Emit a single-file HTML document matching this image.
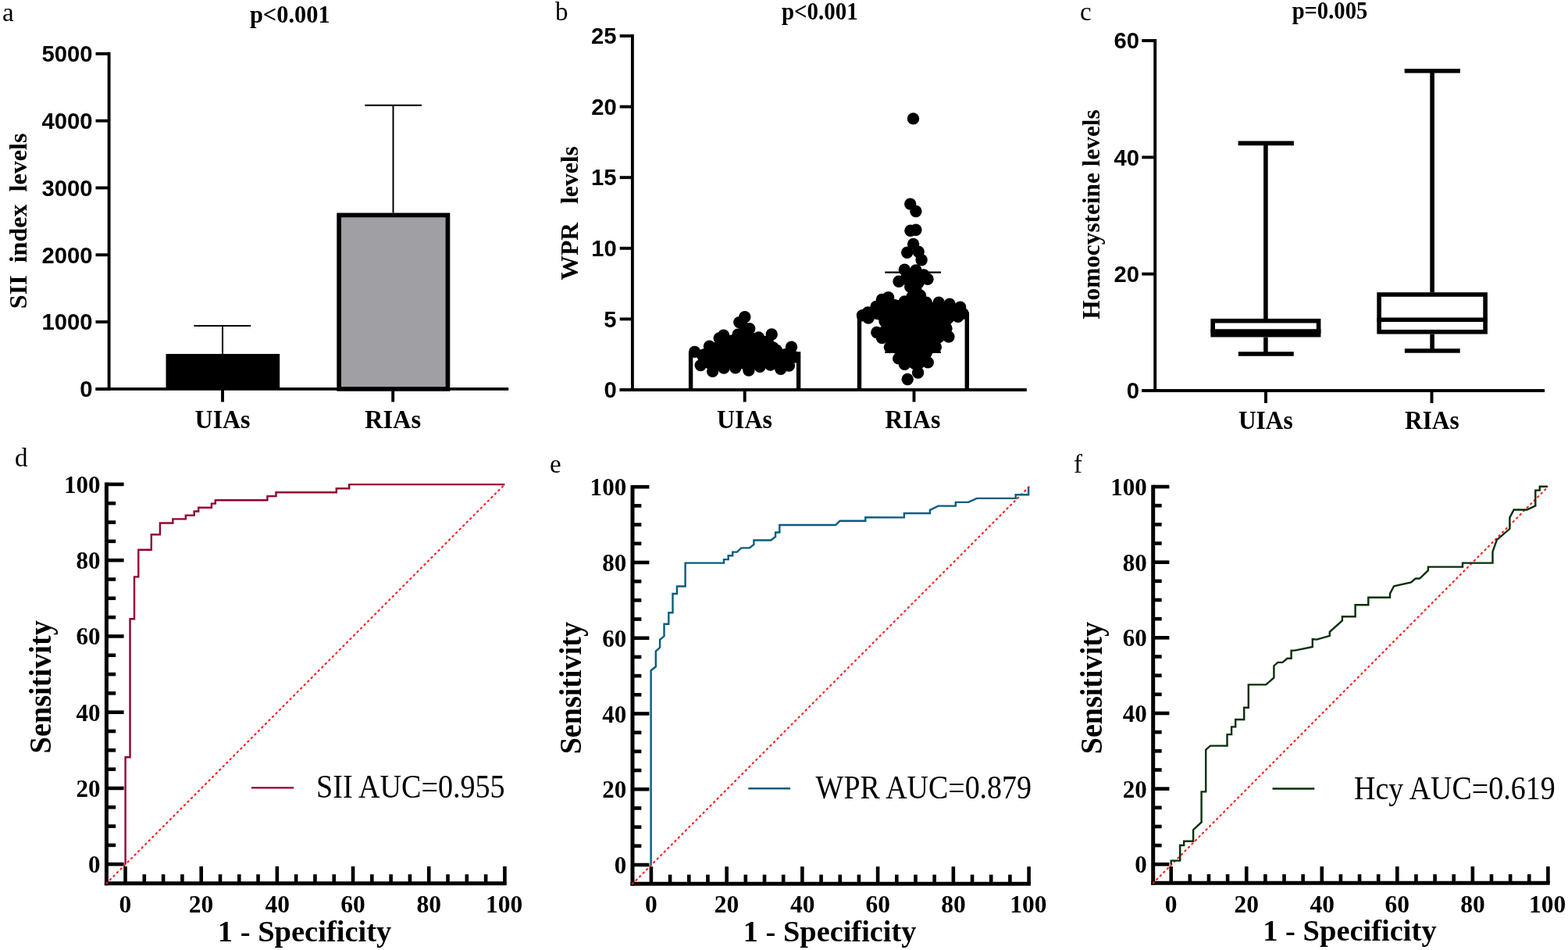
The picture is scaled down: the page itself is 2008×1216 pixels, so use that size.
<!DOCTYPE html>
<html><head><meta charset="utf-8"><title>Figure</title>
<style>
html,body{margin:0;padding:0;background:#fff;}
body{width:2008px;height:1216px;overflow:hidden;}
svg{display:block;}
</style></head>
<body>
<svg width="2008" height="1216" viewBox="0 0 2008 1216">
<rect width="2008" height="1216" fill="#fff"/>
<text x="3.00" y="27.00" font-family="'Liberation Serif', 'Times New Roman', serif" font-size="33" font-weight="normal" text-anchor="start" >a</text>
<text x="711.00" y="26.00" font-family="'Liberation Serif', 'Times New Roman', serif" font-size="33" font-weight="normal" text-anchor="start" >b</text>
<text x="1383.00" y="25.50" font-family="'Liberation Serif', 'Times New Roman', serif" font-size="33" font-weight="normal" text-anchor="start" >c</text>
<text x="19.00" y="597.00" font-family="'Liberation Serif', 'Times New Roman', serif" font-size="33" font-weight="normal" text-anchor="start" >d</text>
<text x="704.00" y="604.50" font-family="'Liberation Serif', 'Times New Roman', serif" font-size="33" font-weight="normal" text-anchor="start" >e</text>
<text x="1375.00" y="605.00" font-family="'Liberation Serif', 'Times New Roman', serif" font-size="33" font-weight="normal" text-anchor="start" >f</text>
<line x1="139.60" y1="66.70" x2="139.60" y2="499.85" stroke="#000" stroke-width="3.9" />
<line x1="122.50" y1="497.90" x2="651.20" y2="497.90" stroke="#000" stroke-width="3.9" />
<line x1="122.50" y1="497.90" x2="139.60" y2="497.90" stroke="#000" stroke-width="3.9" />
<text x="102.34" y="508.21" font-family="'Liberation Sans', Arial, sans-serif" font-size="30.00" font-weight="bold" textLength="16.27" lengthAdjust="spacingAndGlyphs" xml:space="preserve">0</text>
<line x1="122.50" y1="412.08" x2="139.60" y2="412.08" stroke="#000" stroke-width="3.9" />
<text x="53.56" y="422.39" font-family="'Liberation Sans', Arial, sans-serif" font-size="30.00" font-weight="bold" textLength="65.07" lengthAdjust="spacingAndGlyphs" xml:space="preserve">1000</text>
<line x1="122.50" y1="326.26" x2="139.60" y2="326.26" stroke="#000" stroke-width="3.9" />
<text x="53.56" y="336.57" font-family="'Liberation Sans', Arial, sans-serif" font-size="30.00" font-weight="bold" textLength="65.07" lengthAdjust="spacingAndGlyphs" xml:space="preserve">2000</text>
<line x1="122.50" y1="240.44" x2="139.60" y2="240.44" stroke="#000" stroke-width="3.9" />
<text x="53.56" y="250.72" font-family="'Liberation Sans', Arial, sans-serif" font-size="30.00" font-weight="bold" textLength="65.07" lengthAdjust="spacingAndGlyphs" xml:space="preserve">3000</text>
<line x1="122.50" y1="154.62" x2="139.60" y2="154.62" stroke="#000" stroke-width="3.9" />
<text x="53.56" y="164.93" font-family="'Liberation Sans', Arial, sans-serif" font-size="30.00" font-weight="bold" textLength="65.07" lengthAdjust="spacingAndGlyphs" xml:space="preserve">4000</text>
<line x1="122.50" y1="68.80" x2="139.60" y2="68.80" stroke="#000" stroke-width="3.9" />
<text x="53.56" y="79.11" font-family="'Liberation Sans', Arial, sans-serif" font-size="30.00" font-weight="bold" textLength="65.07" lengthAdjust="spacingAndGlyphs" xml:space="preserve">5000</text>
<line x1="285.00" y1="497.90" x2="285.00" y2="514.50" stroke="#000" stroke-width="3.9" />
<line x1="503.20" y1="497.90" x2="503.20" y2="514.50" stroke="#000" stroke-width="3.9" />
<rect x="212.50" y="453.00" width="145.70" height="44.90" fill="#000" stroke="none" stroke-width="0"/>
<line x1="285.00" y1="453.00" x2="285.00" y2="417.00" stroke="#000" stroke-width="2.0" />
<line x1="248.40" y1="417.00" x2="321.20" y2="417.00" stroke="#000" stroke-width="2.0" />
<rect x="434.15" y="275.35" width="139.30" height="222.55" fill="#a09fa4" stroke="#000" stroke-width="5.7"/>
<line x1="503.50" y1="272.50" x2="503.50" y2="134.70" stroke="#000" stroke-width="2.0" />
<line x1="467.30" y1="134.70" x2="540.00" y2="134.70" stroke="#000" stroke-width="2.0" />
<text x="319.92" y="28.90" font-family="'Liberation Serif', 'Times New Roman', serif" font-size="30.50" font-weight="bold" textLength="102.81" lengthAdjust="spacingAndGlyphs" xml:space="preserve">p&lt;0.001</text>
<text x="249.60" y="548.00" font-family="'Liberation Serif', 'Times New Roman', serif" font-size="33.50" font-weight="bold" textLength="70.90" lengthAdjust="spacingAndGlyphs" xml:space="preserve">UIAs</text>
<text x="467.03" y="548.00" font-family="'Liberation Serif', 'Times New Roman', serif" font-size="33.50" font-weight="bold" textLength="72.09" lengthAdjust="spacingAndGlyphs" xml:space="preserve">RIAs</text>
<text x="33.60" y="395.18" font-family="'Liberation Serif', 'Times New Roman', serif" font-size="31.50" font-weight="bold" textLength="224.65" lengthAdjust="spacingAndGlyphs" transform="rotate(-90 33.60 395.18)" xml:space="preserve">SII  index  levels</text>
<line x1="809.90" y1="43.90" x2="809.90" y2="500.95" stroke="#000" stroke-width="3.9" />
<line x1="793.70" y1="499.00" x2="1314.80" y2="499.00" stroke="#000" stroke-width="3.9" />
<line x1="793.70" y1="499.00" x2="809.90" y2="499.00" stroke="#000" stroke-width="3.9" />
<text x="773.54" y="509.31" font-family="'Liberation Sans', Arial, sans-serif" font-size="30.00" font-weight="bold" textLength="16.27" lengthAdjust="spacingAndGlyphs" xml:space="preserve">0</text>
<line x1="793.70" y1="408.40" x2="809.90" y2="408.40" stroke="#000" stroke-width="3.9" />
<text x="773.17" y="418.56" font-family="'Liberation Sans', Arial, sans-serif" font-size="30.00" font-weight="bold" textLength="16.27" lengthAdjust="spacingAndGlyphs" xml:space="preserve">5</text>
<line x1="793.70" y1="317.80" x2="809.90" y2="317.80" stroke="#000" stroke-width="3.9" />
<text x="757.30" y="328.11" font-family="'Liberation Sans', Arial, sans-serif" font-size="30.00" font-weight="bold" textLength="32.54" lengthAdjust="spacingAndGlyphs" xml:space="preserve">10</text>
<line x1="793.70" y1="227.20" x2="809.90" y2="227.20" stroke="#000" stroke-width="3.9" />
<text x="756.94" y="237.36" font-family="'Liberation Sans', Arial, sans-serif" font-size="30.00" font-weight="bold" textLength="32.54" lengthAdjust="spacingAndGlyphs" xml:space="preserve">15</text>
<line x1="793.70" y1="136.60" x2="809.90" y2="136.60" stroke="#000" stroke-width="3.9" />
<text x="757.30" y="146.91" font-family="'Liberation Sans', Arial, sans-serif" font-size="30.00" font-weight="bold" textLength="32.54" lengthAdjust="spacingAndGlyphs" xml:space="preserve">20</text>
<line x1="793.70" y1="46.00" x2="809.90" y2="46.00" stroke="#000" stroke-width="3.9" />
<text x="756.94" y="56.31" font-family="'Liberation Sans', Arial, sans-serif" font-size="30.00" font-weight="bold" textLength="32.54" lengthAdjust="spacingAndGlyphs" xml:space="preserve">25</text>
<line x1="953.70" y1="499.00" x2="953.70" y2="514.50" stroke="#000" stroke-width="3.9" />
<line x1="1170.50" y1="499.00" x2="1170.50" y2="514.50" stroke="#000" stroke-width="3.9" />
<text x="1000.94" y="24.60" font-family="'Liberation Serif', 'Times New Roman', serif" font-size="31.50" font-weight="bold" textLength="97.71" lengthAdjust="spacingAndGlyphs" xml:space="preserve">p&lt;0.001</text>
<text x="918.00" y="548.20" font-family="'Liberation Serif', 'Times New Roman', serif" font-size="33.50" font-weight="bold" textLength="70.90" lengthAdjust="spacingAndGlyphs" xml:space="preserve">UIAs</text>
<text x="1133.34" y="548.20" font-family="'Liberation Serif', 'Times New Roman', serif" font-size="33.50" font-weight="bold" textLength="71.07" lengthAdjust="spacingAndGlyphs" xml:space="preserve">RIAs</text>
<text x="739.60" y="358.68" font-family="'Liberation Serif', 'Times New Roman', serif" font-size="31.50" font-weight="bold" textLength="171.61" lengthAdjust="spacingAndGlyphs" transform="rotate(-90 739.60 358.68)" xml:space="preserve">WPR   levels</text>
<line x1="1479.20" y1="49.91" x2="1479.20" y2="501.95" stroke="#000" stroke-width="3.9" />
<line x1="1462.30" y1="500.00" x2="1978.10" y2="500.00" stroke="#000" stroke-width="3.9" />
<line x1="1462.30" y1="500.00" x2="1479.20" y2="500.00" stroke="#000" stroke-width="3.9" />
<text x="1442.74" y="510.31" font-family="'Liberation Sans', Arial, sans-serif" font-size="30.00" font-weight="bold" textLength="16.27" lengthAdjust="spacingAndGlyphs" xml:space="preserve">0</text>
<line x1="1462.30" y1="350.67" x2="1479.20" y2="350.67" stroke="#000" stroke-width="3.9" />
<text x="1426.50" y="360.98" font-family="'Liberation Sans', Arial, sans-serif" font-size="30.00" font-weight="bold" textLength="32.54" lengthAdjust="spacingAndGlyphs" xml:space="preserve">20</text>
<line x1="1462.30" y1="201.34" x2="1479.20" y2="201.34" stroke="#000" stroke-width="3.9" />
<text x="1426.50" y="211.65" font-family="'Liberation Sans', Arial, sans-serif" font-size="30.00" font-weight="bold" textLength="32.54" lengthAdjust="spacingAndGlyphs" xml:space="preserve">40</text>
<line x1="1462.30" y1="52.01" x2="1479.20" y2="52.01" stroke="#000" stroke-width="3.9" />
<text x="1426.50" y="62.32" font-family="'Liberation Sans', Arial, sans-serif" font-size="30.00" font-weight="bold" textLength="32.54" lengthAdjust="spacingAndGlyphs" xml:space="preserve">60</text>
<line x1="1621.00" y1="500.00" x2="1621.00" y2="516.00" stroke="#000" stroke-width="3.9" />
<line x1="1833.50" y1="500.00" x2="1833.50" y2="516.00" stroke="#000" stroke-width="3.9" />
<text x="1654.64" y="23.90" font-family="'Liberation Serif', 'Times New Roman', serif" font-size="31.00" font-weight="bold" textLength="96.66" lengthAdjust="spacingAndGlyphs" xml:space="preserve">p=0.005</text>
<text x="1585.92" y="548.60" font-family="'Liberation Serif', 'Times New Roman', serif" font-size="33.50" font-weight="bold" textLength="69.78" lengthAdjust="spacingAndGlyphs" xml:space="preserve">UIAs</text>
<text x="1798.95" y="548.60" font-family="'Liberation Serif', 'Times New Roman', serif" font-size="33.50" font-weight="bold" textLength="69.84" lengthAdjust="spacingAndGlyphs" xml:space="preserve">RIAs</text>
<text x="1407.60" y="408.85" font-family="'Liberation Serif', 'Times New Roman', serif" font-size="31.50" font-weight="bold" textLength="268.59" lengthAdjust="spacingAndGlyphs" transform="rotate(-90 1407.60 408.85)" xml:space="preserve">Homocysteine levels</text>
<line x1="1620.90" y1="183.40" x2="1620.90" y2="407.90" stroke="#000" stroke-width="5.6" />
<line x1="1585.60" y1="183.40" x2="1656.90" y2="183.40" stroke="#000" stroke-width="5.6" />
<line x1="1620.90" y1="431.50" x2="1620.90" y2="453.00" stroke="#000" stroke-width="5.6" />
<line x1="1585.80" y1="453.00" x2="1656.80" y2="453.00" stroke="#000" stroke-width="5.6" />
<rect x="1553.20" y="410.70" width="135.40" height="18.00" fill="none" stroke="#000" stroke-width="5.6"/>
<line x1="1550.40" y1="424.00" x2="1691.40" y2="424.00" stroke="#000" stroke-width="5.6" />
<line x1="1834.10" y1="90.70" x2="1834.10" y2="374.20" stroke="#000" stroke-width="5.6" />
<line x1="1798.70" y1="90.70" x2="1869.90" y2="90.70" stroke="#000" stroke-width="5.6" />
<line x1="1834.10" y1="427.60" x2="1834.10" y2="449.00" stroke="#000" stroke-width="5.6" />
<line x1="1798.90" y1="449.00" x2="1869.70" y2="449.00" stroke="#000" stroke-width="5.6" />
<rect x="1766.10" y="377.00" width="136.00" height="47.80" fill="none" stroke="#000" stroke-width="5.6"/>
<line x1="1763.30" y1="409.20" x2="1904.90" y2="409.20" stroke="#000" stroke-width="5.6" />
<path d="M884.60,499.00 V453.00 H1022.60 V499.00" fill="none" stroke="#000" stroke-width="5.4"/>
<path d="M1100.50,499.00 V402.20 H1238.30 V499.00" fill="none" stroke="#000" stroke-width="5.4"/>
<line x1="1133.30" y1="348.70" x2="1205.00" y2="348.70" stroke="#000" stroke-width="2.2" />
<line x1="1133.30" y1="450.80" x2="1205.00" y2="450.80" stroke="#000" stroke-width="2.2" />
<line x1="1169.50" y1="348.70" x2="1169.50" y2="450.80" stroke="#000" stroke-width="2.2" />
<polygon points="889.6,450.4 908.5,443.2 921.2,433.0 926.6,429.2 945.1,428.2 946.8,412.6 953.8,405.8 959.7,420.7 971.5,432.0 988.2,428.0 994.5,448.5 1013.5,444.2 1017.5,457.0 1010.4,468.0 999.8,472.4 986.6,467.0 973.1,469.4 958.9,474.0 941.8,470.8 927.0,471.0 912.6,475.4 897.2,467.6" fill="#000"/>
<circle cx="889.6" cy="450.4" r="7.7"/>
<circle cx="908.5" cy="443.2" r="7.7"/>
<circle cx="921.2" cy="433.0" r="7.7"/>
<circle cx="926.6" cy="429.2" r="7.7"/>
<circle cx="945.1" cy="428.2" r="7.7"/>
<circle cx="946.8" cy="412.6" r="7.7"/>
<circle cx="953.8" cy="405.8" r="7.7"/>
<circle cx="959.7" cy="420.7" r="7.7"/>
<circle cx="971.5" cy="432.0" r="7.7"/>
<circle cx="988.2" cy="428.0" r="7.7"/>
<circle cx="994.5" cy="448.5" r="7.7"/>
<circle cx="1013.5" cy="444.2" r="7.7"/>
<circle cx="1017.5" cy="457.0" r="7.7"/>
<circle cx="1010.4" cy="468.0" r="7.7"/>
<circle cx="999.8" cy="472.4" r="7.7"/>
<circle cx="986.6" cy="467.0" r="7.7"/>
<circle cx="973.1" cy="469.4" r="7.7"/>
<circle cx="958.9" cy="474.0" r="7.7"/>
<circle cx="941.8" cy="470.8" r="7.7"/>
<circle cx="927.0" cy="471.0" r="7.7"/>
<circle cx="912.6" cy="475.4" r="7.7"/>
<circle cx="897.2" cy="467.6" r="7.7"/>
<circle cx="900.0" cy="455.0" r="7.7"/>
<circle cx="935.0" cy="450.0" r="7.7"/>
<circle cx="960.0" cy="445.0" r="7.7"/>
<circle cx="985.0" cy="450.0" r="7.7"/>
<circle cx="1003.0" cy="458.0" r="7.7"/>
<circle cx="990.0" cy="445.0" r="7.7"/>
<polygon points="1104.5,403.8 1111.4,399.9 1122.0,392.4 1129.4,383.4 1137.6,380.8 1158.4,386.0 1171.2,372.1 1186.2,387.1 1202.2,387.1 1216.1,389.2 1229.7,393.1 1233.0,401.3 1226.8,405.3 1212.0,420.5 1214.9,431.0 1198.3,444.3 1188.3,463.9 1175.6,477.0 1158.4,466.2 1150.7,458.9 1139.4,444.5 1129.4,432.6 1122.8,425.5 1133.0,411.0 1112.0,407.0" fill="#000"/>
<circle cx="1104.5" cy="403.8" r="7.7"/>
<circle cx="1111.4" cy="399.9" r="7.7"/>
<circle cx="1122.0" cy="392.4" r="7.7"/>
<circle cx="1129.4" cy="383.4" r="7.7"/>
<circle cx="1137.6" cy="380.8" r="7.7"/>
<circle cx="1158.4" cy="386.0" r="7.7"/>
<circle cx="1171.2" cy="372.1" r="7.7"/>
<circle cx="1186.2" cy="387.1" r="7.7"/>
<circle cx="1202.2" cy="387.1" r="7.7"/>
<circle cx="1216.1" cy="389.2" r="7.7"/>
<circle cx="1229.7" cy="393.1" r="7.7"/>
<circle cx="1233.0" cy="401.3" r="7.7"/>
<circle cx="1226.8" cy="405.3" r="7.7"/>
<circle cx="1212.0" cy="420.5" r="7.7"/>
<circle cx="1214.9" cy="431.0" r="7.7"/>
<circle cx="1198.3" cy="444.3" r="7.7"/>
<circle cx="1188.3" cy="463.9" r="7.7"/>
<circle cx="1175.6" cy="477.0" r="7.7"/>
<circle cx="1158.4" cy="466.2" r="7.7"/>
<circle cx="1150.7" cy="458.9" r="7.7"/>
<circle cx="1139.4" cy="444.5" r="7.7"/>
<circle cx="1129.4" cy="432.6" r="7.7"/>
<circle cx="1122.8" cy="425.5" r="7.7"/>
<circle cx="1133.0" cy="411.0" r="7.7"/>
<circle cx="1112.0" cy="407.0" r="7.7"/>
<circle cx="1169.5" cy="151.9" r="7.7"/>
<circle cx="1165.7" cy="261.1" r="7.7"/>
<circle cx="1172.9" cy="270.5" r="7.7"/>
<circle cx="1165.9" cy="295.3" r="7.7"/>
<circle cx="1172.9" cy="294.2" r="7.7"/>
<circle cx="1169.6" cy="312.4" r="7.7"/>
<circle cx="1161.7" cy="323.2" r="7.7"/>
<circle cx="1176.2" cy="322.2" r="7.7"/>
<circle cx="1180.1" cy="332.8" r="7.7"/>
<circle cx="1158.4" cy="345.3" r="7.7"/>
<circle cx="1172.9" cy="345.9" r="7.7"/>
<circle cx="1151.0" cy="360.3" r="7.7"/>
<circle cx="1188.0" cy="357.3" r="7.7"/>
<circle cx="1165.7" cy="367.0" r="7.7"/>
<circle cx="1172.9" cy="370.9" r="7.7"/>
<circle cx="1178.5" cy="378.3" r="7.7"/>
<circle cx="1165.0" cy="352.0" r="7.7"/>
<circle cx="1180.0" cy="355.0" r="7.7"/>
<circle cx="1162.2" cy="485.5" r="7.7"/>
<circle cx="1168.0" cy="380.0" r="7.7"/>
<circle cx="1160.0" cy="357.0" r="7.7"/>
<circle cx="1176.0" cy="362.0" r="7.7"/>
<circle cx="1168.0" cy="358.0" r="7.7"/>
<circle cx="1183.0" cy="352.0" r="7.7"/>
<line x1="136.40" y1="617.60" x2="136.40" y2="1133.20" stroke="#000" stroke-width="5.0" />
<line x1="133.90" y1="1130.70" x2="648.70" y2="1130.70" stroke="#000" stroke-width="5.0" />
<line x1="136.40" y1="1106.20" x2="158.60" y2="1106.20" stroke="#000" stroke-width="4.6" />
<line x1="160.50" y1="1130.70" x2="160.50" y2="1108.90" stroke="#000" stroke-width="4.6" />
<line x1="136.40" y1="1081.88" x2="148.17" y2="1081.88" stroke="#000" stroke-width="4.6" />
<line x1="184.80" y1="1130.70" x2="184.80" y2="1119.15" stroke="#000" stroke-width="4.6" />
<line x1="136.40" y1="1057.57" x2="148.17" y2="1057.57" stroke="#000" stroke-width="4.6" />
<line x1="209.09" y1="1130.70" x2="209.09" y2="1119.15" stroke="#000" stroke-width="4.6" />
<line x1="136.40" y1="1033.26" x2="148.17" y2="1033.26" stroke="#000" stroke-width="4.6" />
<line x1="233.38" y1="1130.70" x2="233.38" y2="1119.15" stroke="#000" stroke-width="4.6" />
<line x1="136.40" y1="1008.94" x2="158.60" y2="1008.94" stroke="#000" stroke-width="4.6" />
<line x1="257.68" y1="1130.70" x2="257.68" y2="1108.90" stroke="#000" stroke-width="4.6" />
<line x1="136.40" y1="984.62" x2="148.17" y2="984.62" stroke="#000" stroke-width="4.6" />
<line x1="281.98" y1="1130.70" x2="281.98" y2="1119.15" stroke="#000" stroke-width="4.6" />
<line x1="136.40" y1="960.31" x2="148.17" y2="960.31" stroke="#000" stroke-width="4.6" />
<line x1="306.27" y1="1130.70" x2="306.27" y2="1119.15" stroke="#000" stroke-width="4.6" />
<line x1="136.40" y1="936.00" x2="148.17" y2="936.00" stroke="#000" stroke-width="4.6" />
<line x1="330.56" y1="1130.70" x2="330.56" y2="1119.15" stroke="#000" stroke-width="4.6" />
<line x1="136.40" y1="911.68" x2="158.60" y2="911.68" stroke="#000" stroke-width="4.6" />
<line x1="354.86" y1="1130.70" x2="354.86" y2="1108.90" stroke="#000" stroke-width="4.6" />
<line x1="136.40" y1="887.37" x2="148.17" y2="887.37" stroke="#000" stroke-width="4.6" />
<line x1="379.15" y1="1130.70" x2="379.15" y2="1119.15" stroke="#000" stroke-width="4.6" />
<line x1="136.40" y1="863.05" x2="148.17" y2="863.05" stroke="#000" stroke-width="4.6" />
<line x1="403.45" y1="1130.70" x2="403.45" y2="1119.15" stroke="#000" stroke-width="4.6" />
<line x1="136.40" y1="838.74" x2="148.17" y2="838.74" stroke="#000" stroke-width="4.6" />
<line x1="427.75" y1="1130.70" x2="427.75" y2="1119.15" stroke="#000" stroke-width="4.6" />
<line x1="136.40" y1="814.42" x2="158.60" y2="814.42" stroke="#000" stroke-width="4.6" />
<line x1="452.04" y1="1130.70" x2="452.04" y2="1108.90" stroke="#000" stroke-width="4.6" />
<line x1="136.40" y1="790.11" x2="148.17" y2="790.11" stroke="#000" stroke-width="4.6" />
<line x1="476.33" y1="1130.70" x2="476.33" y2="1119.15" stroke="#000" stroke-width="4.6" />
<line x1="136.40" y1="765.79" x2="148.17" y2="765.79" stroke="#000" stroke-width="4.6" />
<line x1="500.63" y1="1130.70" x2="500.63" y2="1119.15" stroke="#000" stroke-width="4.6" />
<line x1="136.40" y1="741.48" x2="148.17" y2="741.48" stroke="#000" stroke-width="4.6" />
<line x1="524.92" y1="1130.70" x2="524.92" y2="1119.15" stroke="#000" stroke-width="4.6" />
<line x1="136.40" y1="717.16" x2="158.60" y2="717.16" stroke="#000" stroke-width="4.6" />
<line x1="549.22" y1="1130.70" x2="549.22" y2="1108.90" stroke="#000" stroke-width="4.6" />
<line x1="136.40" y1="692.85" x2="148.17" y2="692.85" stroke="#000" stroke-width="4.6" />
<line x1="573.51" y1="1130.70" x2="573.51" y2="1119.15" stroke="#000" stroke-width="4.6" />
<line x1="136.40" y1="668.53" x2="148.17" y2="668.53" stroke="#000" stroke-width="4.6" />
<line x1="597.81" y1="1130.70" x2="597.81" y2="1119.15" stroke="#000" stroke-width="4.6" />
<line x1="136.40" y1="644.22" x2="148.17" y2="644.22" stroke="#000" stroke-width="4.6" />
<line x1="622.11" y1="1130.70" x2="622.11" y2="1119.15" stroke="#000" stroke-width="4.6" />
<line x1="136.40" y1="619.90" x2="158.60" y2="619.90" stroke="#000" stroke-width="4.6" />
<line x1="646.40" y1="1130.70" x2="646.40" y2="1108.90" stroke="#000" stroke-width="4.6" />
<line x1="136.40" y1="1130.70" x2="646.40" y2="619.90" stroke="#ff1a1a" stroke-width="2.1" stroke-linecap="round" stroke-dasharray="1.5 4.9"/>
<polyline points="160.6,1106.2 160.6,969.3 166.5,969.3 166.5,792.2 172.0,792.2 172.0,738.4 177.3,738.4 177.3,703.8 193.8,703.8 193.8,684.3 204.9,684.3 204.9,669.5 221.3,669.5 221.3,664.4 237.8,664.4 237.8,659.6 248.7,659.6 248.7,654.5 254.2,654.5 254.2,649.8 270.9,649.8 270.9,644.6 275.8,644.6 275.8,640.2 342.4,640.2 342.4,635.1 353.5,635.1 353.5,630.3 430.8,630.3 430.8,625.3 447.2,625.3 447.2,620.1 646.4,620.1" fill="none" stroke="#920033" stroke-width="2.4" stroke-linejoin="miter" />
<text x="113.05" y="1117.24" font-family="'Liberation Serif', 'Times New Roman', serif" font-size="32.50" font-weight="bold" textLength="15.52" lengthAdjust="spacingAndGlyphs" xml:space="preserve">0</text>
<text x="152.62" y="1168.09" font-family="'Liberation Serif', 'Times New Roman', serif" font-size="31.50" font-weight="bold" textLength="15.75" lengthAdjust="spacingAndGlyphs" xml:space="preserve">0</text>
<text x="97.53" y="1019.98" font-family="'Liberation Serif', 'Times New Roman', serif" font-size="32.50" font-weight="bold" textLength="31.04" lengthAdjust="spacingAndGlyphs" xml:space="preserve">20</text>
<text x="241.85" y="1168.09" font-family="'Liberation Serif', 'Times New Roman', serif" font-size="31.50" font-weight="bold" textLength="31.50" lengthAdjust="spacingAndGlyphs" xml:space="preserve">20</text>
<text x="97.53" y="922.72" font-family="'Liberation Serif', 'Times New Roman', serif" font-size="32.50" font-weight="bold" textLength="31.04" lengthAdjust="spacingAndGlyphs" xml:space="preserve">40</text>
<text x="339.50" y="1168.09" font-family="'Liberation Serif', 'Times New Roman', serif" font-size="31.50" font-weight="bold" textLength="31.50" lengthAdjust="spacingAndGlyphs" xml:space="preserve">40</text>
<text x="97.53" y="825.46" font-family="'Liberation Serif', 'Times New Roman', serif" font-size="32.50" font-weight="bold" textLength="31.04" lengthAdjust="spacingAndGlyphs" xml:space="preserve">60</text>
<text x="436.33" y="1168.09" font-family="'Liberation Serif', 'Times New Roman', serif" font-size="31.50" font-weight="bold" textLength="31.50" lengthAdjust="spacingAndGlyphs" xml:space="preserve">60</text>
<text x="97.53" y="728.20" font-family="'Liberation Serif', 'Times New Roman', serif" font-size="32.50" font-weight="bold" textLength="31.04" lengthAdjust="spacingAndGlyphs" xml:space="preserve">80</text>
<text x="533.55" y="1168.09" font-family="'Liberation Serif', 'Times New Roman', serif" font-size="31.50" font-weight="bold" textLength="31.50" lengthAdjust="spacingAndGlyphs" xml:space="preserve">80</text>
<text x="82.01" y="630.94" font-family="'Liberation Serif', 'Times New Roman', serif" font-size="32.50" font-weight="bold" textLength="46.56" lengthAdjust="spacingAndGlyphs" xml:space="preserve">100</text>
<text x="622.11" y="1168.09" font-family="'Liberation Serif', 'Times New Roman', serif" font-size="31.50" font-weight="bold" textLength="47.25" lengthAdjust="spacingAndGlyphs" xml:space="preserve">100</text>
<line x1="321.90" y1="1008.40" x2="376.20" y2="1008.40" stroke="#920033" stroke-width="2.4" />
<text x="405.03" y="1021.10" font-family="'Liberation Serif', 'Times New Roman', serif" font-size="41.50" font-weight="normal" textLength="241.59" lengthAdjust="spacingAndGlyphs" xml:space="preserve">SII AUC=0.955</text>
<text x="278.82" y="1204.50" font-family="'Liberation Serif', 'Times New Roman', serif" font-size="38.50" font-weight="bold" textLength="222.53" lengthAdjust="spacingAndGlyphs" xml:space="preserve">1 - Specificity</text>
<text x="65.20" y="964.41" font-family="'Liberation Serif', 'Times New Roman', serif" font-size="39.50" font-weight="bold" textLength="170.29" lengthAdjust="spacingAndGlyphs" transform="rotate(-90 65.20 964.41)" xml:space="preserve">Sensitivity</text>
<line x1="810.00" y1="620.90" x2="810.00" y2="1133.80" stroke="#000" stroke-width="5.0" />
<line x1="807.50" y1="1131.30" x2="1319.90" y2="1131.30" stroke="#000" stroke-width="5.0" />
<line x1="810.00" y1="1107.00" x2="831.40" y2="1107.00" stroke="#000" stroke-width="4.6" />
<line x1="833.90" y1="1131.30" x2="833.90" y2="1109.20" stroke="#000" stroke-width="4.6" />
<line x1="810.00" y1="1082.81" x2="821.34" y2="1082.81" stroke="#000" stroke-width="4.6" />
<line x1="858.08" y1="1131.30" x2="858.08" y2="1119.59" stroke="#000" stroke-width="4.6" />
<line x1="810.00" y1="1058.62" x2="821.34" y2="1058.62" stroke="#000" stroke-width="4.6" />
<line x1="882.27" y1="1131.30" x2="882.27" y2="1119.59" stroke="#000" stroke-width="4.6" />
<line x1="810.00" y1="1034.43" x2="821.34" y2="1034.43" stroke="#000" stroke-width="4.6" />
<line x1="906.45" y1="1131.30" x2="906.45" y2="1119.59" stroke="#000" stroke-width="4.6" />
<line x1="810.00" y1="1010.24" x2="831.40" y2="1010.24" stroke="#000" stroke-width="4.6" />
<line x1="930.64" y1="1131.30" x2="930.64" y2="1109.20" stroke="#000" stroke-width="4.6" />
<line x1="810.00" y1="986.05" x2="821.34" y2="986.05" stroke="#000" stroke-width="4.6" />
<line x1="954.82" y1="1131.30" x2="954.82" y2="1119.59" stroke="#000" stroke-width="4.6" />
<line x1="810.00" y1="961.86" x2="821.34" y2="961.86" stroke="#000" stroke-width="4.6" />
<line x1="979.01" y1="1131.30" x2="979.01" y2="1119.59" stroke="#000" stroke-width="4.6" />
<line x1="810.00" y1="937.67" x2="821.34" y2="937.67" stroke="#000" stroke-width="4.6" />
<line x1="1003.19" y1="1131.30" x2="1003.19" y2="1119.59" stroke="#000" stroke-width="4.6" />
<line x1="810.00" y1="913.48" x2="831.40" y2="913.48" stroke="#000" stroke-width="4.6" />
<line x1="1027.38" y1="1131.30" x2="1027.38" y2="1109.20" stroke="#000" stroke-width="4.6" />
<line x1="810.00" y1="889.29" x2="821.34" y2="889.29" stroke="#000" stroke-width="4.6" />
<line x1="1051.57" y1="1131.30" x2="1051.57" y2="1119.59" stroke="#000" stroke-width="4.6" />
<line x1="810.00" y1="865.10" x2="821.34" y2="865.10" stroke="#000" stroke-width="4.6" />
<line x1="1075.75" y1="1131.30" x2="1075.75" y2="1119.59" stroke="#000" stroke-width="4.6" />
<line x1="810.00" y1="840.91" x2="821.34" y2="840.91" stroke="#000" stroke-width="4.6" />
<line x1="1099.93" y1="1131.30" x2="1099.93" y2="1119.59" stroke="#000" stroke-width="4.6" />
<line x1="810.00" y1="816.72" x2="831.40" y2="816.72" stroke="#000" stroke-width="4.6" />
<line x1="1124.12" y1="1131.30" x2="1124.12" y2="1109.20" stroke="#000" stroke-width="4.6" />
<line x1="810.00" y1="792.53" x2="821.34" y2="792.53" stroke="#000" stroke-width="4.6" />
<line x1="1148.30" y1="1131.30" x2="1148.30" y2="1119.59" stroke="#000" stroke-width="4.6" />
<line x1="810.00" y1="768.34" x2="821.34" y2="768.34" stroke="#000" stroke-width="4.6" />
<line x1="1172.49" y1="1131.30" x2="1172.49" y2="1119.59" stroke="#000" stroke-width="4.6" />
<line x1="810.00" y1="744.15" x2="821.34" y2="744.15" stroke="#000" stroke-width="4.6" />
<line x1="1196.67" y1="1131.30" x2="1196.67" y2="1119.59" stroke="#000" stroke-width="4.6" />
<line x1="810.00" y1="719.96" x2="831.40" y2="719.96" stroke="#000" stroke-width="4.6" />
<line x1="1220.86" y1="1131.30" x2="1220.86" y2="1109.20" stroke="#000" stroke-width="4.6" />
<line x1="810.00" y1="695.77" x2="821.34" y2="695.77" stroke="#000" stroke-width="4.6" />
<line x1="1245.05" y1="1131.30" x2="1245.05" y2="1119.59" stroke="#000" stroke-width="4.6" />
<line x1="810.00" y1="671.58" x2="821.34" y2="671.58" stroke="#000" stroke-width="4.6" />
<line x1="1269.23" y1="1131.30" x2="1269.23" y2="1119.59" stroke="#000" stroke-width="4.6" />
<line x1="810.00" y1="647.39" x2="821.34" y2="647.39" stroke="#000" stroke-width="4.6" />
<line x1="1293.41" y1="1131.30" x2="1293.41" y2="1119.59" stroke="#000" stroke-width="4.6" />
<line x1="810.00" y1="623.20" x2="831.40" y2="623.20" stroke="#000" stroke-width="4.6" />
<line x1="1317.60" y1="1131.30" x2="1317.60" y2="1109.20" stroke="#000" stroke-width="4.6" />
<line x1="810.00" y1="1131.30" x2="1317.60" y2="623.20" stroke="#ff1a1a" stroke-width="2.1" stroke-linecap="round" stroke-dasharray="1.5 4.9"/>
<polyline points="833.6,1107.0 833.6,858.2 839.8,853.3 839.8,833.6 845.1,828.8 845.1,818.8 850.5,814.3 850.5,798.7 856.3,798.7 856.3,784.2 861.5,784.2 861.5,760.0 866.9,760.0 866.9,750.5 877.6,750.5 877.6,720.6 927.0,720.6 927.0,716.1 932.7,716.1 932.7,711.2 938.2,711.2 938.2,706.6 943.8,706.6 949.3,701.4 959.9,701.4 965.4,696.9 965.4,691.5 987.3,691.5 993.1,686.9 993.1,681.5 998.3,681.5 998.3,672.0 1070.0,672.0 1075.5,666.8 1108.3,666.8 1108.3,662.3 1157.9,662.4 1157.9,657.0 1190.9,657.0 1190.9,652.8 1201.6,647.6 1223.8,647.6 1223.8,642.9 1240.1,642.9 1250.9,637.9 1300.7,637.9 1300.7,633.3 1317.1,633.3 1317.1,623.8" fill="none" stroke="#065d7f" stroke-width="2.4" stroke-linejoin="miter" />
<text x="786.65" y="1118.04" font-family="'Liberation Serif', 'Times New Roman', serif" font-size="32.50" font-weight="bold" textLength="15.52" lengthAdjust="spacingAndGlyphs" xml:space="preserve">0</text>
<text x="826.02" y="1168.09" font-family="'Liberation Serif', 'Times New Roman', serif" font-size="31.50" font-weight="bold" textLength="15.75" lengthAdjust="spacingAndGlyphs" xml:space="preserve">0</text>
<text x="771.13" y="1021.28" font-family="'Liberation Serif', 'Times New Roman', serif" font-size="32.50" font-weight="bold" textLength="31.04" lengthAdjust="spacingAndGlyphs" xml:space="preserve">20</text>
<text x="914.81" y="1168.09" font-family="'Liberation Serif', 'Times New Roman', serif" font-size="31.50" font-weight="bold" textLength="31.50" lengthAdjust="spacingAndGlyphs" xml:space="preserve">20</text>
<text x="771.13" y="924.52" font-family="'Liberation Serif', 'Times New Roman', serif" font-size="32.50" font-weight="bold" textLength="31.04" lengthAdjust="spacingAndGlyphs" xml:space="preserve">40</text>
<text x="1012.02" y="1168.09" font-family="'Liberation Serif', 'Times New Roman', serif" font-size="31.50" font-weight="bold" textLength="31.50" lengthAdjust="spacingAndGlyphs" xml:space="preserve">40</text>
<text x="771.13" y="827.76" font-family="'Liberation Serif', 'Times New Roman', serif" font-size="32.50" font-weight="bold" textLength="31.04" lengthAdjust="spacingAndGlyphs" xml:space="preserve">60</text>
<text x="1108.41" y="1168.09" font-family="'Liberation Serif', 'Times New Roman', serif" font-size="31.50" font-weight="bold" textLength="31.50" lengthAdjust="spacingAndGlyphs" xml:space="preserve">60</text>
<text x="771.13" y="731.00" font-family="'Liberation Serif', 'Times New Roman', serif" font-size="32.50" font-weight="bold" textLength="31.04" lengthAdjust="spacingAndGlyphs" xml:space="preserve">80</text>
<text x="1205.19" y="1168.09" font-family="'Liberation Serif', 'Times New Roman', serif" font-size="31.50" font-weight="bold" textLength="31.50" lengthAdjust="spacingAndGlyphs" xml:space="preserve">80</text>
<text x="755.61" y="634.24" font-family="'Liberation Serif', 'Times New Roman', serif" font-size="32.50" font-weight="bold" textLength="46.56" lengthAdjust="spacingAndGlyphs" xml:space="preserve">100</text>
<text x="1293.31" y="1168.09" font-family="'Liberation Serif', 'Times New Roman', serif" font-size="31.50" font-weight="bold" textLength="47.25" lengthAdjust="spacingAndGlyphs" xml:space="preserve">100</text>
<line x1="958.30" y1="1009.30" x2="1012.10" y2="1009.30" stroke="#065d7f" stroke-width="2.4" />
<text x="1044.60" y="1021.80" font-family="'Liberation Serif', 'Times New Roman', serif" font-size="41.50" font-weight="normal" textLength="276.41" lengthAdjust="spacingAndGlyphs" xml:space="preserve">WPR AUC=0.879</text>
<text x="951.83" y="1204.50" font-family="'Liberation Serif', 'Times New Roman', serif" font-size="38.50" font-weight="bold" textLength="221.62" lengthAdjust="spacingAndGlyphs" xml:space="preserve">1 - Specificity</text>
<text x="744.40" y="965.30" font-family="'Liberation Serif', 'Times New Roman', serif" font-size="39.50" font-weight="bold" textLength="169.28" lengthAdjust="spacingAndGlyphs" transform="rotate(-90 744.40 965.30)" xml:space="preserve">Sensitivity</text>
<line x1="1476.70" y1="620.70" x2="1476.70" y2="1132.80" stroke="#000" stroke-width="5.0" />
<line x1="1474.20" y1="1130.30" x2="1984.70" y2="1130.30" stroke="#000" stroke-width="5.0" />
<line x1="1476.70" y1="1106.30" x2="1497.40" y2="1106.30" stroke="#000" stroke-width="4.6" />
<line x1="1499.70" y1="1130.30" x2="1499.70" y2="1109.10" stroke="#000" stroke-width="4.6" />
<line x1="1476.70" y1="1082.13" x2="1487.67" y2="1082.13" stroke="#000" stroke-width="4.6" />
<line x1="1523.84" y1="1130.30" x2="1523.84" y2="1119.06" stroke="#000" stroke-width="4.6" />
<line x1="1476.70" y1="1057.97" x2="1487.67" y2="1057.97" stroke="#000" stroke-width="4.6" />
<line x1="1547.97" y1="1130.30" x2="1547.97" y2="1119.06" stroke="#000" stroke-width="4.6" />
<line x1="1476.70" y1="1033.80" x2="1487.67" y2="1033.80" stroke="#000" stroke-width="4.6" />
<line x1="1572.11" y1="1130.30" x2="1572.11" y2="1119.06" stroke="#000" stroke-width="4.6" />
<line x1="1476.70" y1="1009.64" x2="1497.40" y2="1009.64" stroke="#000" stroke-width="4.6" />
<line x1="1596.24" y1="1130.30" x2="1596.24" y2="1109.10" stroke="#000" stroke-width="4.6" />
<line x1="1476.70" y1="985.47" x2="1487.67" y2="985.47" stroke="#000" stroke-width="4.6" />
<line x1="1620.38" y1="1130.30" x2="1620.38" y2="1119.06" stroke="#000" stroke-width="4.6" />
<line x1="1476.70" y1="961.31" x2="1487.67" y2="961.31" stroke="#000" stroke-width="4.6" />
<line x1="1644.51" y1="1130.30" x2="1644.51" y2="1119.06" stroke="#000" stroke-width="4.6" />
<line x1="1476.70" y1="937.14" x2="1487.67" y2="937.14" stroke="#000" stroke-width="4.6" />
<line x1="1668.64" y1="1130.30" x2="1668.64" y2="1119.06" stroke="#000" stroke-width="4.6" />
<line x1="1476.70" y1="912.98" x2="1497.40" y2="912.98" stroke="#000" stroke-width="4.6" />
<line x1="1692.78" y1="1130.30" x2="1692.78" y2="1109.10" stroke="#000" stroke-width="4.6" />
<line x1="1476.70" y1="888.81" x2="1487.67" y2="888.81" stroke="#000" stroke-width="4.6" />
<line x1="1716.91" y1="1130.30" x2="1716.91" y2="1119.06" stroke="#000" stroke-width="4.6" />
<line x1="1476.70" y1="864.65" x2="1487.67" y2="864.65" stroke="#000" stroke-width="4.6" />
<line x1="1741.05" y1="1130.30" x2="1741.05" y2="1119.06" stroke="#000" stroke-width="4.6" />
<line x1="1476.70" y1="840.48" x2="1487.67" y2="840.48" stroke="#000" stroke-width="4.6" />
<line x1="1765.18" y1="1130.30" x2="1765.18" y2="1119.06" stroke="#000" stroke-width="4.6" />
<line x1="1476.70" y1="816.32" x2="1497.40" y2="816.32" stroke="#000" stroke-width="4.6" />
<line x1="1789.32" y1="1130.30" x2="1789.32" y2="1109.10" stroke="#000" stroke-width="4.6" />
<line x1="1476.70" y1="792.15" x2="1487.67" y2="792.15" stroke="#000" stroke-width="4.6" />
<line x1="1813.45" y1="1130.30" x2="1813.45" y2="1119.06" stroke="#000" stroke-width="4.6" />
<line x1="1476.70" y1="767.99" x2="1487.67" y2="767.99" stroke="#000" stroke-width="4.6" />
<line x1="1837.59" y1="1130.30" x2="1837.59" y2="1119.06" stroke="#000" stroke-width="4.6" />
<line x1="1476.70" y1="743.82" x2="1487.67" y2="743.82" stroke="#000" stroke-width="4.6" />
<line x1="1861.72" y1="1130.30" x2="1861.72" y2="1119.06" stroke="#000" stroke-width="4.6" />
<line x1="1476.70" y1="719.66" x2="1497.40" y2="719.66" stroke="#000" stroke-width="4.6" />
<line x1="1885.86" y1="1130.30" x2="1885.86" y2="1109.10" stroke="#000" stroke-width="4.6" />
<line x1="1476.70" y1="695.49" x2="1487.67" y2="695.49" stroke="#000" stroke-width="4.6" />
<line x1="1910.00" y1="1130.30" x2="1910.00" y2="1119.06" stroke="#000" stroke-width="4.6" />
<line x1="1476.70" y1="671.33" x2="1487.67" y2="671.33" stroke="#000" stroke-width="4.6" />
<line x1="1934.13" y1="1130.30" x2="1934.13" y2="1119.06" stroke="#000" stroke-width="4.6" />
<line x1="1476.70" y1="647.16" x2="1487.67" y2="647.16" stroke="#000" stroke-width="4.6" />
<line x1="1958.27" y1="1130.30" x2="1958.27" y2="1119.06" stroke="#000" stroke-width="4.6" />
<line x1="1476.70" y1="623.00" x2="1497.40" y2="623.00" stroke="#000" stroke-width="4.6" />
<line x1="1982.40" y1="1130.30" x2="1982.40" y2="1109.10" stroke="#000" stroke-width="4.6" />
<line x1="1476.70" y1="1130.30" x2="1982.40" y2="623.00" stroke="#ff1a1a" stroke-width="2.1" stroke-linecap="round" stroke-dasharray="1.5 4.9"/>
<polyline points="1499.7,1106.3 1499.7,1101.6 1511.2,1101.6 1511.2,1082.0 1516.2,1082.0 1516.2,1076.7 1528.1,1076.7 1528.1,1062.2 1538.6,1052.5 1538.6,1013.4 1544.2,1013.4 1544.2,959.7 1549.9,954.6 1571.5,954.6 1571.5,940.1 1577.1,940.1 1577.1,930.4 1582.2,930.4 1582.2,921.0 1593.2,921.0 1593.2,905.7 1598.8,905.7 1598.8,876.4 1621.2,876.4 1631.4,867.5 1631.4,852.2 1636.5,847.9 1642.4,847.9 1648.5,842.8 1653.6,842.8 1653.6,832.6 1658.2,832.6 1680.8,827.9 1680.8,818.0 1686.1,818.6 1702.8,813.8 1702.8,808.8 1718.9,794.4 1718.9,789.2 1735.6,789.2 1735.6,774.3 1752.3,774.3 1752.3,764.7 1780.0,764.7 1780.0,759.9 1785.1,750.3 1807.0,745.3 1812.8,740.5 1818.0,740.5 1828.9,730.2 1828.9,725.6 1873.0,725.6 1873.0,720.6 1911.5,720.6 1911.5,706.2 1916.8,691.2 1933.4,676.8 1933.4,662.4 1938.7,652.5 1955.3,652.5 1966.3,647.4 1966.3,627.6 1971.8,627.6 1971.8,622.8 1982.0,622.8" fill="none" stroke="#042f08" stroke-width="2.4" stroke-linejoin="miter" />
<text x="1453.35" y="1117.34" font-family="'Liberation Serif', 'Times New Roman', serif" font-size="32.50" font-weight="bold" textLength="15.52" lengthAdjust="spacingAndGlyphs" xml:space="preserve">0</text>
<text x="1491.83" y="1168.09" font-family="'Liberation Serif', 'Times New Roman', serif" font-size="31.50" font-weight="bold" textLength="15.75" lengthAdjust="spacingAndGlyphs" xml:space="preserve">0</text>
<text x="1437.83" y="1020.68" font-family="'Liberation Serif', 'Times New Roman', serif" font-size="32.50" font-weight="bold" textLength="31.04" lengthAdjust="spacingAndGlyphs" xml:space="preserve">20</text>
<text x="1580.41" y="1168.09" font-family="'Liberation Serif', 'Times New Roman', serif" font-size="31.50" font-weight="bold" textLength="31.50" lengthAdjust="spacingAndGlyphs" xml:space="preserve">20</text>
<text x="1437.83" y="924.02" font-family="'Liberation Serif', 'Times New Roman', serif" font-size="32.50" font-weight="bold" textLength="31.04" lengthAdjust="spacingAndGlyphs" xml:space="preserve">40</text>
<text x="1677.42" y="1168.09" font-family="'Liberation Serif', 'Times New Roman', serif" font-size="31.50" font-weight="bold" textLength="31.50" lengthAdjust="spacingAndGlyphs" xml:space="preserve">40</text>
<text x="1437.83" y="827.36" font-family="'Liberation Serif', 'Times New Roman', serif" font-size="32.50" font-weight="bold" textLength="31.04" lengthAdjust="spacingAndGlyphs" xml:space="preserve">60</text>
<text x="1773.61" y="1168.09" font-family="'Liberation Serif', 'Times New Roman', serif" font-size="31.50" font-weight="bold" textLength="31.50" lengthAdjust="spacingAndGlyphs" xml:space="preserve">60</text>
<text x="1437.83" y="730.70" font-family="'Liberation Serif', 'Times New Roman', serif" font-size="32.50" font-weight="bold" textLength="31.04" lengthAdjust="spacingAndGlyphs" xml:space="preserve">80</text>
<text x="1870.19" y="1168.09" font-family="'Liberation Serif', 'Times New Roman', serif" font-size="31.50" font-weight="bold" textLength="31.50" lengthAdjust="spacingAndGlyphs" xml:space="preserve">80</text>
<text x="1422.31" y="634.04" font-family="'Liberation Serif', 'Times New Roman', serif" font-size="32.50" font-weight="bold" textLength="46.56" lengthAdjust="spacingAndGlyphs" xml:space="preserve">100</text>
<text x="1958.11" y="1168.09" font-family="'Liberation Serif', 'Times New Roman', serif" font-size="31.50" font-weight="bold" textLength="47.25" lengthAdjust="spacingAndGlyphs" xml:space="preserve">100</text>
<line x1="1629.50" y1="1009.50" x2="1683.30" y2="1009.50" stroke="#042f08" stroke-width="2.4" />
<text x="1734.06" y="1023.30" font-family="'Liberation Serif', 'Times New Roman', serif" font-size="41.50" font-weight="normal" textLength="257.61" lengthAdjust="spacingAndGlyphs" xml:space="preserve">Hcy AUC=0.619</text>
<text x="1617.22" y="1204.00" font-family="'Liberation Serif', 'Times New Roman', serif" font-size="38.50" font-weight="bold" textLength="222.43" lengthAdjust="spacingAndGlyphs" xml:space="preserve">1 - Specificity</text>
<text x="1410.80" y="965.30" font-family="'Liberation Serif', 'Times New Roman', serif" font-size="39.50" font-weight="bold" textLength="169.28" lengthAdjust="spacingAndGlyphs" transform="rotate(-90 1410.80 965.30)" xml:space="preserve">Sensitivity</text>
</svg>
</body></html>
